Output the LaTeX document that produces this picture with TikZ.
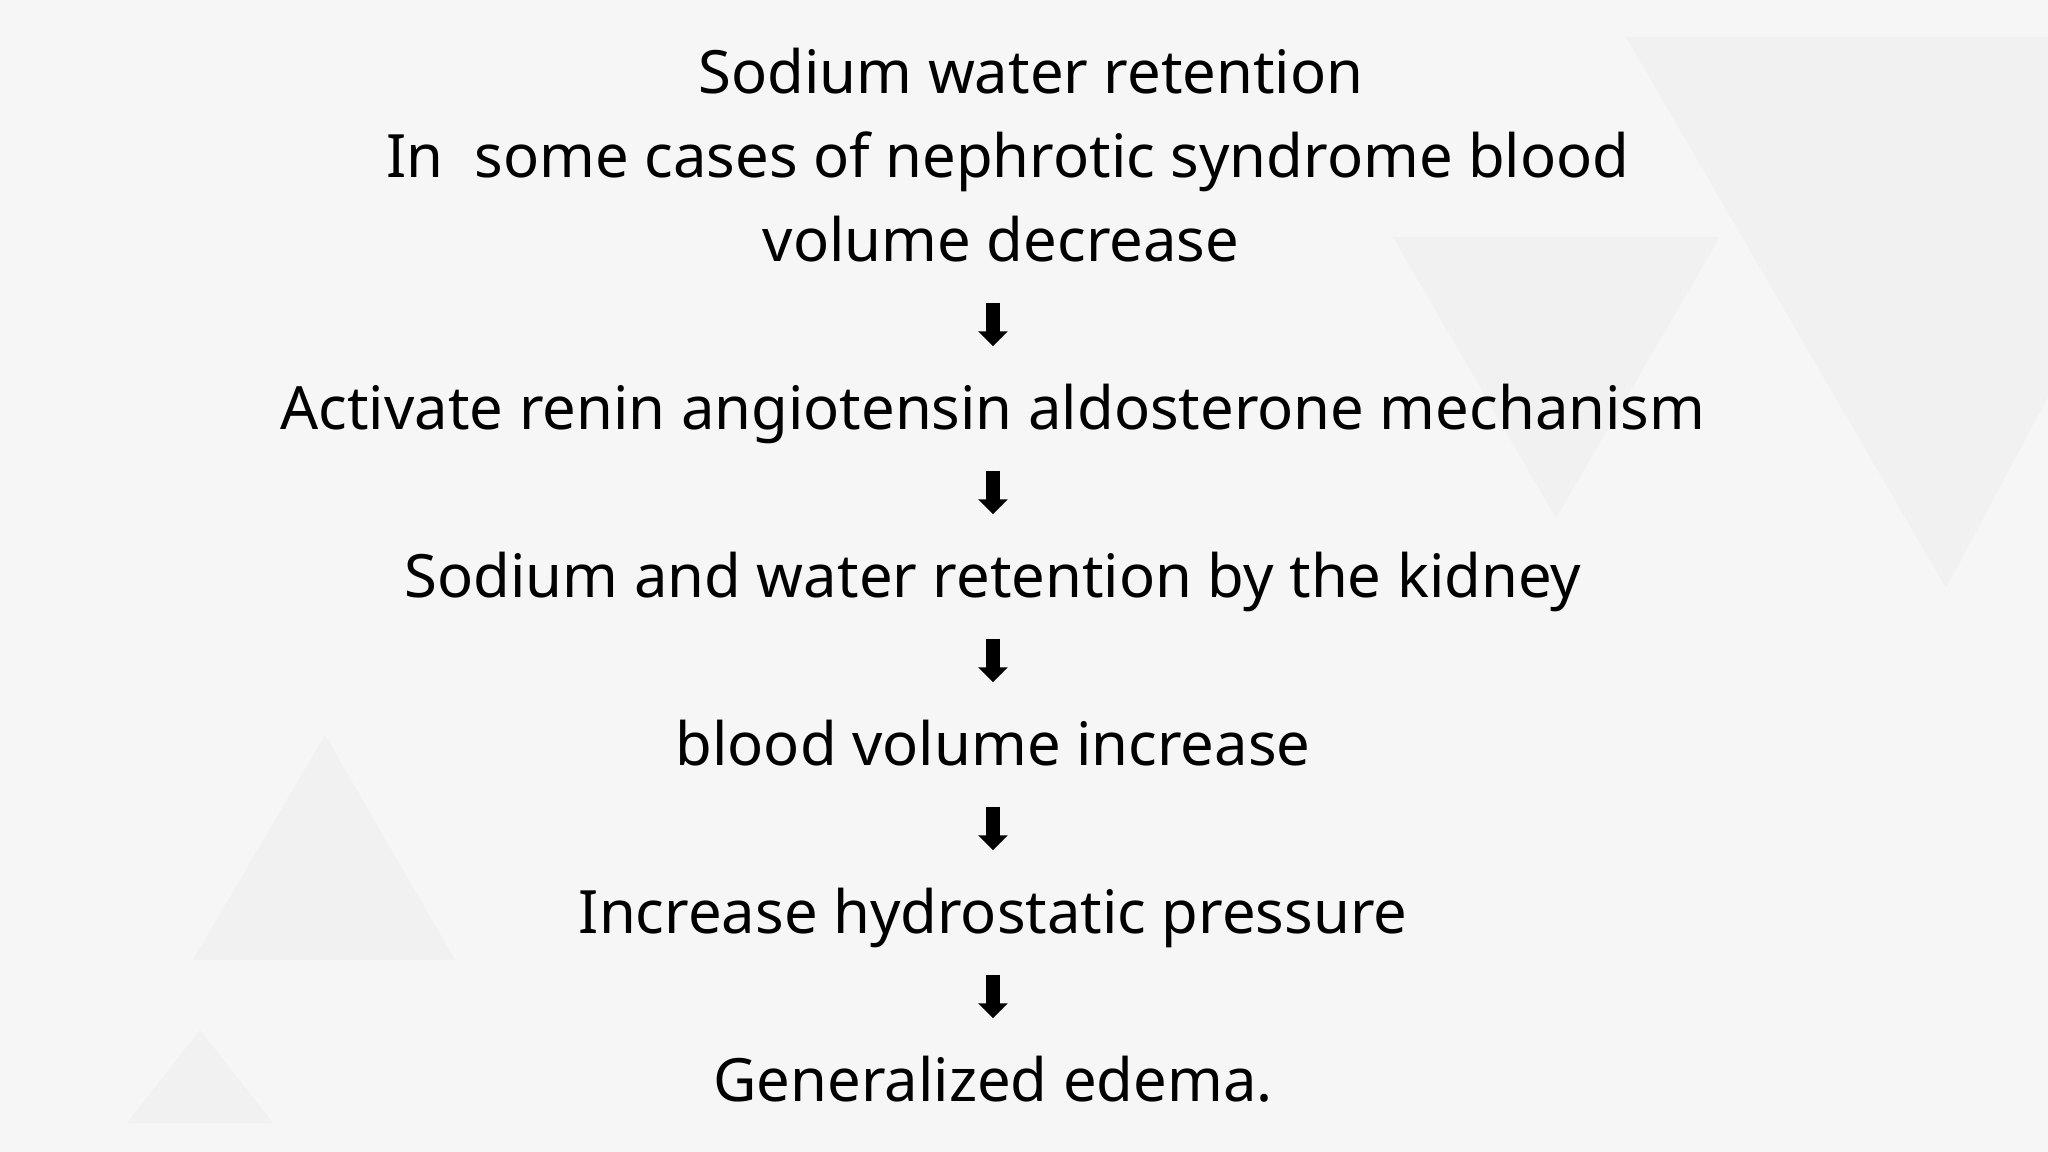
\documentclass[tikz,border=0pt]{standalone}
\usepackage{fontspec}
\setmainfont{Noto Sans}
\usetikzlibrary{arrows.meta,matrix}

\definecolor{slidebg}{HTML}{F6F6F6}
\definecolor{tri}{HTML}{F1F1F1}

\begin{document}
\begin{tikzpicture}
\tikzstyle{steptxt} = [inner sep=0pt, text height=0.46cm, text depth=0.14cm,
font=\fontsize{17pt}{20pt}\selectfont]
\tikzstyle{line} = [draw, line width=0.14cm, -{Triangle[width=0.29cm,length=0.15cm]},
shorten <=0.26cm, shorten >=0.37cm]
\tikzstyle{shade} = [fill=tri, draw=none]

% slide background
\useasboundingbox (0,0) rectangle (20.48,11.52);
\fill[slidebg] (0,0) rectangle (20.48,11.52);
\begin{scope}
\clip (0,0) rectangle (20.48,11.52);
\fill[shade] (16.26,11.15) -- (22.40,11.15) -- (19.46,5.64) -- cycle;
\fill[shade] (13.93,9.15) -- (17.20,9.15) -- (15.56,6.34) -- cycle;
\fill[shade] (3.25,4.17) -- (1.93,1.92) -- (4.55,1.92) -- cycle;
\fill[shade] (2.00,1.22) -- (1.27,0.29) -- (2.73,0.29) -- cycle;
\end{scope}

\matrix [row sep=0.24cm, inner sep=0pt, matrix anchor=raas.base] at (9.93,7.22)
{
% cause
\node [steptxt, xshift=0.38cm] (title) {Sodium water retention}; \\
\node [steptxt, xshift=0.15cm] (cases) {In \ some cases of nephrotic syndrome blood}; \\
\node [steptxt, xshift=0.08cm] (voldec) {volume decrease}; \\[0.84cm]
% chain
\node [steptxt] (raas) {Activate renin angiotensin aldosterone mechanism}; \\[0.84cm]
\node [steptxt] (kidney) {Sodium and water retention by the kidney}; \\[0.84cm]
\node [steptxt] (volinc) {blood volume increase}; \\[0.84cm]
\node [steptxt] (press) {Increase hydrostatic pressure}; \\[0.84cm]
\node [steptxt] (edema) {Generalized edema.}; \\
};
\tikzstyle{every path}=[line]
\path (voldec.south -| raas.north) -- (raas);
\path (raas) -- (kidney);
\path (kidney) -- (volinc);
\path (volinc) -- (press);
\path (press) -- (edema);

\end{tikzpicture}
\end{document}
